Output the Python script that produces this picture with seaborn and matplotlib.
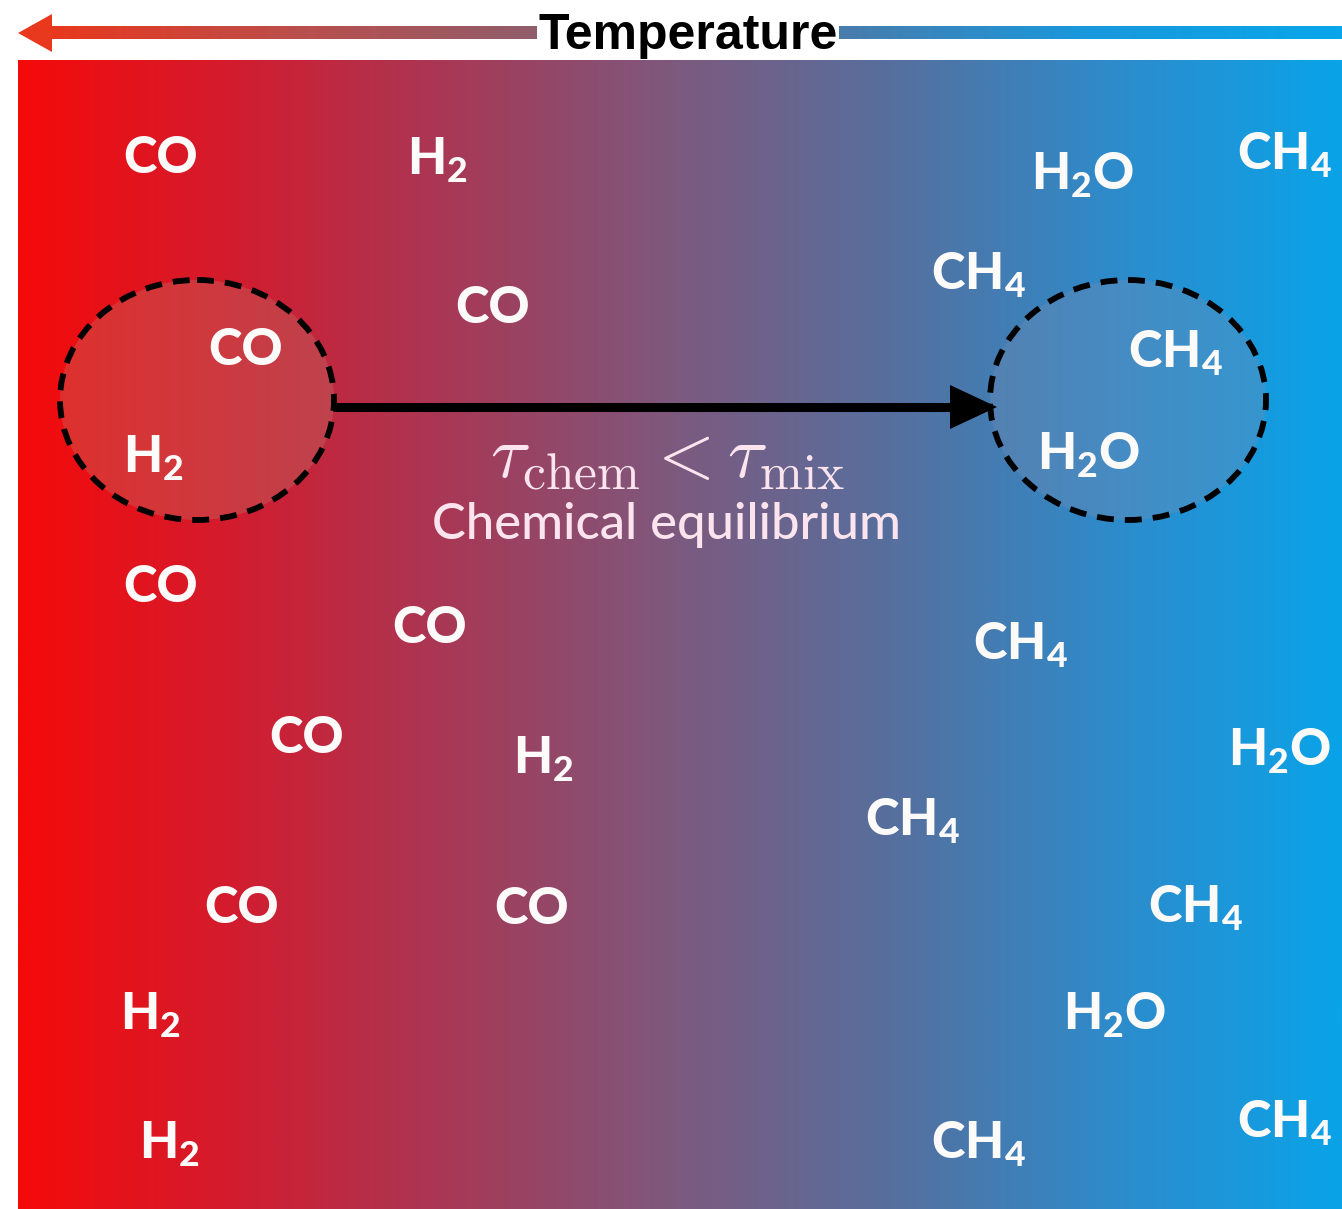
import numpy as np
import matplotlib
matplotlib.use("Agg")
import matplotlib.pyplot as plt
from matplotlib.patches import Ellipse, Polygon
import seaborn as sns

sns.set_theme(style="white")
plt.rcParams["mathtext.fontset"] = "custom"
plt.rcParams["mathtext.rm"] = "Lato:black"
plt.rcParams["mathtext.it"] = "Lato:black"
plt.rcParams["mathtext.bf"] = "Lato:black"

# ---- data ----
W, H = 1342, 1209
panel = [18, 1342, 60, 1209]               # x0, x1, y0, y1
grad_colors = ["#f50a0a", "#d11d30", "#a53a58", "#7c5a7f", "#55709f", "#2d8ccc", "#0aa3e8"]

molecules = ["CO", "H$_2$", "H$_2$O", "CH$_4$",
             "CH$_4$", "CO", "CO", "CH$_4$",
             "H$_2$", "H$_2$O", "CO", "CO",
             "CH$_4$", "CO", "H$_2$", "H$_2$O",
             "CH$_4$", "CO", "CO", "CH$_4$",
             "H$_2$", "H$_2$O", "H$_2$", "CH$_4$", "CH$_4$"]
mol_x = [161, 437, 1083, 1284,
         978, 493, 246, 1175,
         153, 1089, 161, 430,
         1020, 307, 543, 1280,
         912, 242, 532, 1195,
         150, 1115, 169, 978, 1284]
mol_y = [173, 175, 190, 170,
         290, 323, 365, 368,
         473, 470, 602, 643,
         660, 753, 774, 766,
         836, 923, 924, 923,
         1030, 1030, 1159, 1159, 1138]

circle_cx = [197, 1128]
circle_cy = [400, 400]
circle_w = [274, 276]
circle_h = [240, 240]

arrow_x = [333, 997]
arrow_y = 407

temp_arrow_x = [18, 1342]
temp_arrow_y = 33

# ---- figure ----
fig = plt.figure(figsize=(W / 100, H / 100), dpi=100)
ax = fig.add_axes([0, 0, 1, 1])
ax.set_xlim(0, W)
ax.set_ylim(H, 0)
ax.axis("off")

cmap = sns.blend_palette(grad_colors, as_cmap=True)
grad = np.linspace(0, 1, 512)[None, :]
ax.imshow(grad, cmap=cmap, aspect="auto",
          extent=[panel[0], panel[1], panel[3], panel[2]], zorder=0)

# temperature arrow (gradient bar)
bar_cmap = sns.blend_palette(["#e8381e", "#b8504e", "#8a6070", "#4c7aa8", "#1a98dc", "#0aa6ea"], as_cmap=True)
ax.imshow(grad, cmap=bar_cmap, aspect="auto",
          extent=[50, temp_arrow_x[1], temp_arrow_y + 6.5, temp_arrow_y - 6.5], zorder=1)
ax.add_patch(Polygon([[temp_arrow_x[0], temp_arrow_y], [52, temp_arrow_y - 19], [52, temp_arrow_y + 19]],
                     closed=True, facecolor="#e8381e", edgecolor="none", zorder=2))
ax.text(688, 49, "Temperature", fontfamily="Liberation Sans", fontweight="bold",
        fontsize=36, color="black", ha="center", va="baseline", zorder=3,
        bbox=dict(boxstyle="square,pad=0.02", facecolor="white", edgecolor="none"))

# circles
fills = [(0.75, 0.45, 0.40), (0.45, 0.55, 0.70)]
for cx, cy, w, h, fc in zip(circle_cx, circle_cy, circle_w, circle_h, fills):
    ax.add_patch(Ellipse((cx, cy), w, h, facecolor=fc, alpha=0.35, edgecolor="none", zorder=2))
    ax.add_patch(Ellipse((cx, cy), w, h, facecolor="none", edgecolor="black",
                         lw=4.2, linestyle=(0, (2.9, 1.9)), zorder=3))

# equilibrium arrow
ax.plot([arrow_x[0], arrow_x[1] - 40], [arrow_y, arrow_y], color="black", lw=6.5, solid_capstyle="butt", zorder=4)
ax.add_patch(Polygon([[arrow_x[1], arrow_y], [arrow_x[1] - 47, arrow_y - 22], [arrow_x[1] - 47, arrow_y + 22]],
                     closed=True, facecolor="black", edgecolor="none", zorder=4))

ax.text(668, 477, r"$\tau_{\rm chem} < \tau_{\rm mix}$", math_fontfamily="cm",
        fontsize=53, color="#fbe4ee", ha="center", va="baseline", zorder=5)
ax.text(666, 539, "Chemical equilibrium", fontfamily="Lato", fontweight="medium",
        fontsize=36.5, color="#fbe4ee", ha="center", va="baseline", zorder=5)

for label, x, y in zip(molecules, mol_x, mol_y):
    ax.text(x, y, label, fontfamily="Lato", fontweight="black", fontsize=36.5,
            color="#fdfafa", ha="center", va="baseline", zorder=5)

fig.savefig("out.png", dpi=100)
